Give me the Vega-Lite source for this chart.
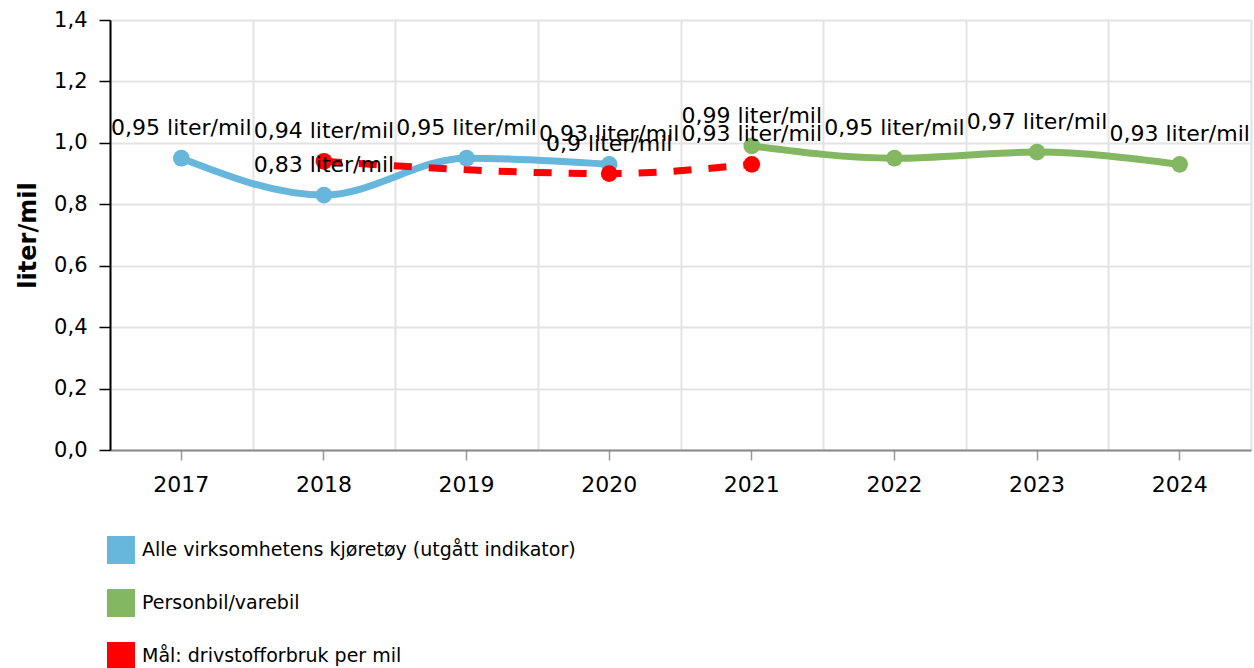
{
  "$schema": "https://vega.github.io/schema/vega-lite/v6.json",
  "autosize": {"type": "none"},
  "width": 1141,
  "height": 430,
  "padding": {"left": 110, "top": 20, "right": 3, "bottom": 218},
  "background": "white",
  "config": {
    "view": {"stroke": null},
    "font": "DejaVu Sans",
    "locale": {"number": {"decimal": ",", "thousands": "\u00a0", "grouping": [3], "currency": ["", " liter/mil"]}},
    "legend": {
      "orient": "none", "legendX": -3, "legendY": 516, "direction": "vertical",
      "padding": 0,
      "symbolType": "square", "symbolSize": 784, "symbolStrokeWidth": 0, "symbolOpacity": 1,
      "labelFontSize": 19, "labelFont": "DejaVu Sans", "labelColor": "#000", "labelOffset": 7, "labelLimit": 800,
      "rowPadding": 25
    }
  },
  "data": {
    "values": [
      {"year": "2017", "value": 0.95, "series": "Alle virksomhetens kjøretøy (utgått indikator)"},
      {"year": "2018", "value": 0.83, "series": "Alle virksomhetens kjøretøy (utgått indikator)"},
      {"year": "2019", "value": 0.95, "series": "Alle virksomhetens kjøretøy (utgått indikator)"},
      {"year": "2020", "value": 0.93, "series": "Alle virksomhetens kjøretøy (utgått indikator)"},
      {"year": "2021", "value": 0.99, "series": "Personbil/varebil"},
      {"year": "2022", "value": 0.95, "series": "Personbil/varebil"},
      {"year": "2023", "value": 0.97, "series": "Personbil/varebil"},
      {"year": "2024", "value": 0.93, "series": "Personbil/varebil"},
      {"year": "2018", "value": 0.94, "series": "Mål: drivstofforbruk per mil"},
      {"year": "2020", "value": 0.90, "series": "Mål: drivstofforbruk per mil"},
      {"year": "2021", "value": 0.93, "series": "Mål: drivstofforbruk per mil"}
    ]
  },
  "resolve": {"axis": {"x": "independent"}},
  "layer": [
    {
      "transform": [{"filter": "datum.series !== 'Mål: drivstofforbruk per mil'"}],
      "mark": {"type": "line", "interpolate": "monotone", "strokeWidth": 7},
      "encoding": {
        "x": {
          "field": "year", "type": "ordinal",
          "scale": {"type": "band", "paddingInner": 0, "paddingOuter": 0},
          "axis": {"orient": "bottom", "tickBand": "extent", "grid": true, "gridColor": "#e3e3e3", "gridWidth": 2, "ticks": false, "labels": false, "domain": false, "title": null}
        },
        "y": {
          "field": "value", "type": "quantitative",
          "scale": {"domain": [0, 1.4], "nice": false, "zero": true},
          "axis": {
            "values": [0, 0.2, 0.4, 0.6, 0.8, 1.0, 1.2, 1.4],
            "format": ".1f",
            "grid": true, "gridColor": "#e3e3e3", "gridWidth": 2,
            "domainColor": "#000", "domainWidth": 2,
            "tickColor": "#000", "tickSize": 11, "tickWidth": 1.5,
            "labelFontSize": 21, "labelColor": "#000", "labelPadding": 12, "labelFont": "DejaVu Sans",
            "title": "liter/mil", "titleFontSize": 24, "titleFontWeight": "bold", "titleColor": "#000", "titlePadding": 13, "titleFont": "DejaVu Sans"
          }
        },
        "color": {
          "field": "series", "type": "nominal",
          "scale": {
            "domain": ["Alle virksomhetens kjøretøy (utgått indikator)", "Personbil/varebil", "Mål: drivstofforbruk per mil"],
            "range": ["#67b7dc", "#84b761", "#ff0000"]
          },
          "legend": {
            "title": null,
            "encode": {"symbols": {"update": {"fill": {"scale": "color", "field": "value"}, "stroke": {"value": "transparent"}, "strokeDash": {"value": []}}}}
          }
        }
      }
    },
    {
      "transform": [{"filter": "datum.series === 'Mål: drivstofforbruk per mil'"}],
      "mark": {"type": "line", "interpolate": "monotone", "strokeWidth": 7, "strokeDash": [18, 17]},
      "encoding": {
        "x": {"field": "year", "type": "ordinal", "axis": null},
        "y": {"field": "value", "type": "quantitative"},
        "color": {"field": "series", "type": "nominal"}
      }
    },
    {
      "mark": {"type": "circle", "size": 280, "opacity": 1},
      "encoding": {
        "x": {
          "field": "year", "type": "ordinal",
          "axis": {"orient": "bottom", "grid": false, "ticks": true, "tickColor": "#999", "tickSize": 10, "tickWidth": 1.5, "domain": true, "domainColor": "#8a8a8a", "domainWidth": 2, "labelFontSize": 22, "labelColor": "#000", "labelPadding": 14, "labelAngle": 0, "labelFont": "DejaVu Sans", "title": null}
        },
        "y": {"field": "value", "type": "quantitative"},
        "color": {"field": "series", "type": "nominal"}
      }
    },
    {
      "mark": {"type": "text", "dy": -23, "baseline": "alphabetic", "align": "center", "fontSize": 22, "font": "DejaVu Sans", "color": "#000"},
      "encoding": {
        "x": {"field": "year", "type": "ordinal", "axis": null},
        "y": {"field": "value", "type": "quantitative"},
        "text": {"field": "value", "type": "quantitative", "format": "$.2~f"}
      }
    }
  ]
}
